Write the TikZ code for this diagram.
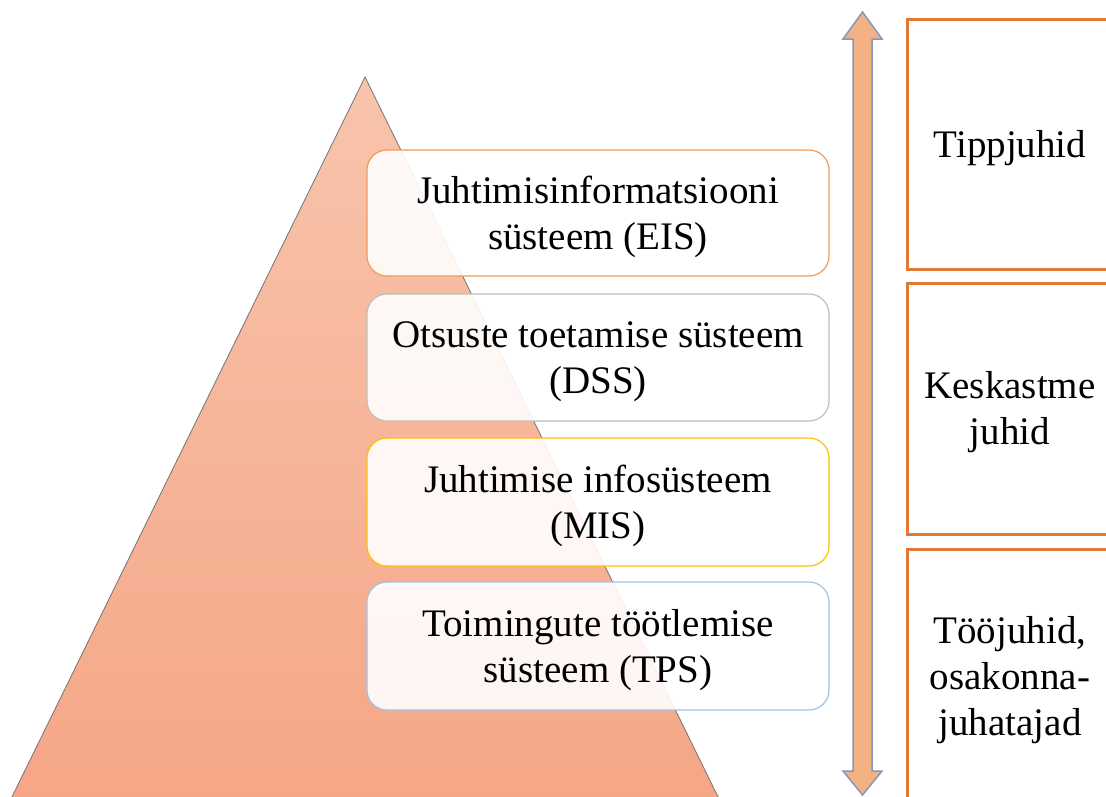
\documentclass[tikz,border=0pt]{standalone}
\usepackage{fontspec}
\setmainfont{Liberation Serif}
\begin{document}
\begin{tikzpicture}[x=1pt,y=-1pt,
  sysbox/.style={draw, line width=1.2pt, rounded corners=20pt, fill=white, fill opacity=0.9,
    minimum width=462pt, minimum height=126pt, inner sep=0pt},
  boxtext/.style={align=center, inner sep=0pt, font=\fontsize{39}{46}\selectfont},
  lvlbox/.style={draw=lvlor, line width=3pt, minimum width=206pt, inner sep=0pt}]
\definecolor{pyrtop}{RGB}{248,196,172}
\definecolor{pyrbot}{RGB}{245,166,134}
\definecolor{eisc}{RGB}{241,154,87}
\definecolor{dssc}{RGB}{191,191,191}
\definecolor{misc}{RGB}{255,192,0}
\definecolor{tpsc}{RGB}{157,195,230}
\definecolor{lvlor}{RGB}{224,122,52}
\definecolor{arrfill}{RGB}{244,177,131}
\definecolor{arrdraw}{RGB}{132,151,190}
\useasboundingbox (0,0) rectangle (1106,796);
\clip (0,0) rectangle (1106,796);
% pyramid
\shade[top color=pyrtop, bottom color=pyrbot, draw=black!55, line width=0.8pt]
  (365,77) -- (722,805) -- (8,805) -- cycle;
% system boxes
\node[sysbox, draw=eisc, minimum height=126pt] (eis) at (598,213) {};
\node[boxtext] (eist) at ([yshift=-4pt]eis.center) {Juhtimisinformatsiooni\\süsteem (EIS)};
\node[sysbox, draw=dssc, minimum height=127pt] (dss) at (598,357.5) {};
\node[boxtext] (dsst) at ([yshift=-4pt]dss.center) {Otsuste toetamise süsteem\\(DSS)};
\node[sysbox, draw=misc, minimum height=128pt] (mis) at (598,502) {};
\node[boxtext] (mist) at ([yshift=-4pt]mis.center) {Juhtimise infosüsteem\\(MIS)};
\node[sysbox, draw=tpsc, minimum height=128pt] (tps) at (598,646) {};
\node[boxtext] (tpst) at ([yshift=-4pt]tps.center) {Toimingute töötlemise\\süsteem (TPS)};
% double arrow
\filldraw[fill=arrfill, draw=arrdraw, line width=1.5pt, line join=miter]
  (862.5,12) -- (882,39) -- (872,39) -- (872,771) -- (882,771) -- (862.5,795)
  -- (843,771) -- (853,771) -- (853,39) -- (843,39) -- cycle;
% level boxes
\node[lvlbox, minimum height=250pt] (top) at (1010,144) {};
\node[boxtext] (topt) at (1010,148) {Tippjuhid};
\node[lvlbox, minimum height=251pt] (mid) at (1010,408.5) {};
\node[boxtext] (midt) at (1010,412) {Keskastme\\juhid};
\node[lvlbox, minimum height=270pt] (low) at (1010,684) {};
\node[boxtext] (lowt) at (1010,680) {Tööjuhid,\\osakonna-\\juhatajad};
\end{tikzpicture}
\end{document}
